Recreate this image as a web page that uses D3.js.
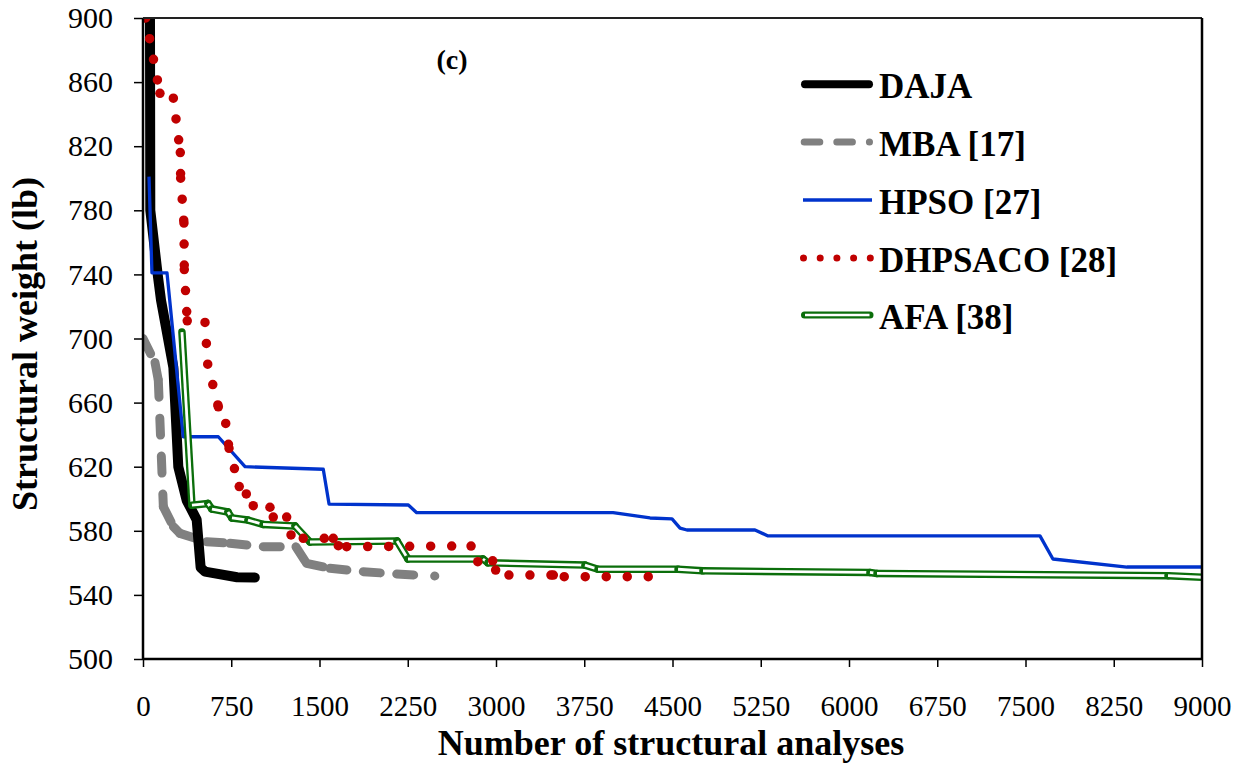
<!DOCTYPE html>
<html>
<head>
<meta charset="utf-8">
<script src="https://cdn.jsdelivr.net/npm/d3@7"></script>
<style>
  html, body { margin: 0; padding: 0; background: #fff; }
  svg { display: block; font-family: "Liberation Serif", "Times New Roman", serif; }
</style>
</head>
<body>
<svg id="chart" width="1246" height="765"></svg>
<script>
// Convergence histories: [number of structural analyses, structural weight (lb)]
const dajaData = [[59,915],[62,780],[123,741],[153,724],[258,682],[300,620],[371,599],[456,587],[490,557],[527,554.5],[800,551],[950,550.8]];
const mbaData = [[0,700],[102,685],[130,674],[173,595],[258,582.6],[314,578.4],[541,573.2],[739,572.2],[1022,570.1],[1300,570],[1390,559.7],[1589,556.6],[1872,554.5],[2156,553],[2480,551.8]];
const hpsoData = [[51,801],[76,741],[204,741],[342,638.7],[640,638.7],[867,620],[1532,618.4],[1581,596.7],[2255,596.1],[2326,591.3],[3995,591.3],[4309,588],[4496,587.4],[4564,581.7],[4623,580.5],[5201,580.5],[5312,576.8],[7623,576.8],[7733,562.4],[8362,557.4],[9000,557.4]];
const dhpsacoData = [[23,900],[144,853],[258,850],[317,816],[320,800],[348,772],[351,743],[376,711],[527,710],[550,684],[640,657.4],[703,647],[731,631.5],[818,607.6],[878,603],[937,595.7],[1079,594.7],[1107,588.6],[1221,588.6],[1258,577.4],[1362,575.3],[1617,575.3],[1660,570.7],[1731,570.1],[2788,570.5],[2845,560.7],[2972,561.3],[2997,555.5],[3110,552.4],[3487,552.4],[3580,551.4],[4303,551.4]];
const afaData = [[331,704],[416,596],[552,597],[586,593.6],[722,591.7],[756,588],[892,586.7],[1020,584],[1292,583],[1419,573],[2159,573.6],[2252,562.4],[2889,562.4],[2932,560],[3756,558.6],[3867,556],[4547,556],[4759,555],[6178,554],[6238,553.4],[8711,552],[9000,551]];

const seriesNames = ["DAJA", "MBA [17]", "HPSO [27]", "DHPSACO [28]", "AFA [38]"];
const xTicks = [0,750,1500,2250,3000,3750,4500,5250,6000,6750,7500,8250,9000];
const yTicks = [500,540,580,620,660,700,740,780,820,860,900];

const colors = { daja: "#000000", mba: "#808080", hpso: "#0033cc", dhpsaco: "#c00000", afa: "#0b6e0b" };

const svg = d3.select("#chart");
const plotL = 143, plotR = 1202, plotT = 18, plotB = 659;
const x = d3.scaleLinear().domain([0, 9000]).range([plotL, plotR]);
const y = d3.scaleLinear().domain([500, 900]).range([plotB, plotT]);

svg.append("defs").append("clipPath").attr("id", "plotClip")
  .append("rect").attr("x", plotL).attr("y", plotT).attr("width", plotR - plotL).attr("height", plotB - plotT);

const plot = svg.append("g").attr("clip-path", "url(#plotClip)");
const line = d3.line().x(d => x(d[0])).y(d => y(d[1]));

// draws a series one segment at a time so that the dash pattern restarts at every vertex
function segments(data, attrs) {
  const g = plot.append("g");
  for (let i = 0; i < data.length - 1; i++) {
    const p = g.append("path").attr("d", line([data[i], data[i + 1]])).attr("fill", "none");
    for (const k in attrs) p.attr(k, attrs[k]);
  }
  return g;
}

// MBA: gray long dashes
segments(mbaData, { stroke: colors.mba, "stroke-width": 9, "stroke-linecap": "round", "stroke-dasharray": "17,21" });

// DAJA: thick black
plot.append("path").attr("d", line(dajaData)).attr("fill", "none")
  .attr("stroke", colors.daja).attr("stroke-width", 10).attr("stroke-linejoin", "round").attr("stroke-linecap", "round");

// HPSO: thin blue
plot.append("path").attr("d", line(hpsoData)).attr("fill", "none")
  .attr("stroke", colors.hpso).attr("stroke-width", 3.3).attr("stroke-linejoin", "round");

// AFA: double green line (green outer stroke with white core)
(function () {
  const g = plot.append("g");
  for (let i = 0; i < afaData.length - 1; i++) {
    const d = line([afaData[i], afaData[i + 1]]);
    g.append("path").attr("d", d).attr("fill", "none").attr("stroke", colors.afa)
      .attr("stroke-width", 7.5).attr("stroke-linecap", "round");
    g.append("path").attr("d", d).attr("fill", "none").attr("stroke", "#fff")
      .attr("stroke-width", 2.8).attr("stroke-linecap", "butt");
  }
})();

// DHPSACO: red round dots
segments(dhpsacoData, { stroke: colors.dhpsaco, "stroke-width": 9.5, "stroke-linecap": "round", "stroke-dasharray": "0,21" });

// Axes
const yAxis = d3.axisLeft(y).tickValues(yTicks).tickFormat(d3.format("d")).tickSize(9).tickSizeOuter(0).tickPadding(21);
const xAxis = d3.axisBottom(x).tickValues(xTicks).tickFormat(d3.format("d")).tickSize(8).tickSizeOuter(0).tickPadding(28.5);

const gy = svg.append("g").attr("transform", `translate(${plotL},0)`).call(yAxis);
const gx = svg.append("g").attr("transform", `translate(0,${plotB})`).call(xAxis);
[gx, gy].forEach(g => {
  g.select(".domain").remove();
  g.selectAll(".tick line").attr("stroke", "#000").attr("stroke-width", 1.5);
  g.selectAll(".tick text").attr("fill", "#000")
    .style("font-family", '"Liberation Serif", "Times New Roman", serif').style("font-size", "29px");
});
gy.selectAll(".tick text").style("font-size", "30px");

// Frame: axis lines and top/right border
svg.append("line").attr("x1", plotL).attr("x2", plotL).attr("y1", plotT).attr("y2", plotB).attr("stroke", "#000").attr("stroke-width", 2.5);
svg.append("line").attr("x1", plotL).attr("x2", plotR).attr("y1", plotB).attr("y2", plotB).attr("stroke", "#000").attr("stroke-width", 2.5);
svg.append("line").attr("x1", plotL).attr("x2", plotR).attr("y1", plotT).attr("y2", plotT).attr("stroke", "#222").attr("stroke-width", 1.8);
svg.append("line").attr("x1", plotR).attr("x2", plotR).attr("y1", plotT).attr("y2", plotB).attr("stroke", "#000").attr("stroke-width", 2.5);

// Axis titles
svg.append("text").attr("x", 671).attr("y", 755).attr("text-anchor", "middle")
  .style("font-size", "36px").style("font-weight", "bold").text("Number of structural analyses");
svg.append("text").attr("transform", "translate(37,344) rotate(-90)").attr("text-anchor", "middle")
  .style("font-size", "36px").style("font-weight", "bold").text("Structural weight (lb)");

// Panel label
svg.append("text").attr("x", 452).attr("y", 69).attr("text-anchor", "middle")
  .style("font-size", "28px").style("font-weight", "bold").text("(c)");

// Legend
const legendRows = [84.3, 142, 200, 258, 315];
const lg = svg.append("g");
function legendLine(x1, x2, yy, attrs) {
  const p = lg.append("line").attr("x1", x1).attr("x2", x2).attr("y1", yy).attr("y2", yy);
  for (const k in attrs) p.attr(k, attrs[k]);
}
legendLine(805, 869, legendRows[0], { stroke: colors.daja, "stroke-width": 8, "stroke-linecap": "round" });
legendLine(804.2, 869.5, legendRows[1], { stroke: colors.mba, "stroke-width": 7, "stroke-linecap": "round", "stroke-dasharray": "15.6,17" });
legendLine(803, 872, legendRows[2], { stroke: colors.hpso, "stroke-width": 3.3 });
legendLine(803.5, 871, legendRows[3], { stroke: colors.dhpsaco, "stroke-width": 7, "stroke-linecap": "round", "stroke-dasharray": "0,16.7" });
legendLine(804.5, 870, legendRows[4], { stroke: colors.afa, "stroke-width": 7, "stroke-linecap": "round" });
legendLine(805, 869.5, legendRows[4], { stroke: "#fff", "stroke-width": 2.6 });
seriesNames.forEach((name, i) => {
  lg.append("text").attr("x", 879).attr("y", legendRows[i] + 13.5)
    .style("font-size", "35px").style("font-weight", "bold").text(name);
});
</script>
</body>
</html>
